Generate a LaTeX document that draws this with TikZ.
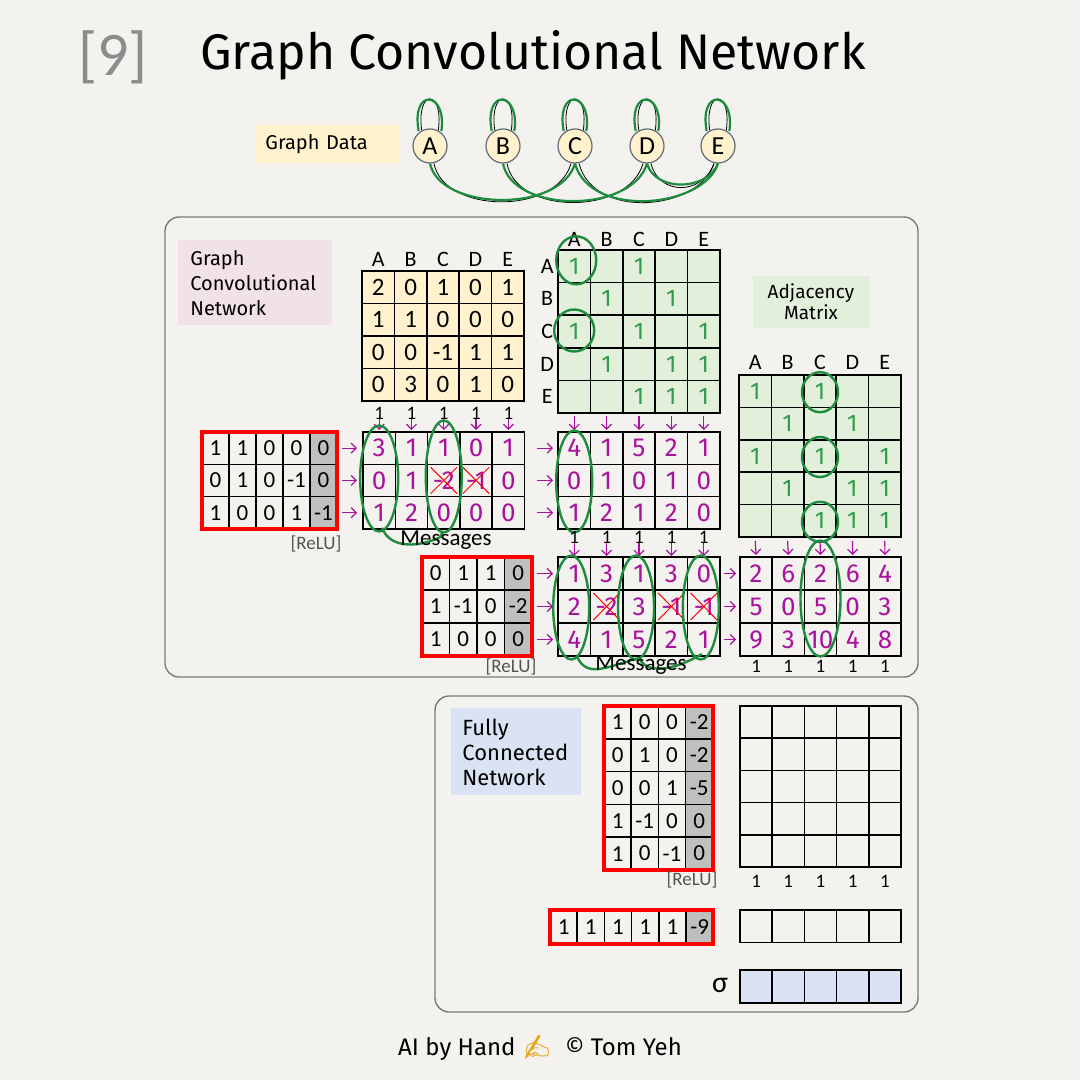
\documentclass[tikz,border=0pt]{standalone}
\usepackage{fontspec}
\setmainfont{Carlito}
\newfontfamily\labfont{Fira Sans}
\newfontfamily\emojifont{Noto Emoji}
\usetikzlibrary{arrows.meta,calc}
\definecolor{bg}{HTML}{F4F2EE}
\definecolor{yel}{HTML}{FFF2CC}
\definecolor{grn}{HTML}{E2EFDA}
\definecolor{pnk}{HTML}{F0E2E7}
\definecolor{blu}{HTML}{DAE3F3}
\definecolor{gcol}{HTML}{BFBFBF}
\definecolor{mag}{HTML}{A8129E}
\definecolor{gstroke}{HTML}{1E8C3E}
\definecolor{gtext}{HTML}{2E9E4A}
\definecolor{boxline}{HTML}{7A7A7A}
\definecolor{numgray}{HTML}{8C8C8C}
\definecolor{relu}{HTML}{555555}
\definecolor{nodeline}{HTML}{5F6B7A}
\definecolor{emo}{HTML}{E8A317}

\newcommand\numgrid[7]{%
  \foreach \rw [count=\ii] in {#7} {%
    \foreach \vv [count=\jj] in \rw {%
      \node[gcell, minimum width=#4*0.5pt, minimum height=#5*0.5pt, #6] (#1-\ii-\jj) at ({#2+(\jj-0.5)*#4},{#3+(\ii-0.5)*#5}) {\vv};
    }%
  }%
}
\newcommand\emptygrid[8]{%
  \foreach \ii in {1,...,#6} {%
    \foreach \jj in {1,...,#7} {%
      \node[gcell, minimum width=#4*0.5pt, minimum height=#5*0.5pt, #8] (#1-\ii-\jj) at ({#2+(\jj-0.5)*#4},{#3+(\ii-0.5)*#5}) {};
    }%
  }%
}

\tikzset{
  gcell/.style={draw=black, line width=0.75pt, inner sep=0pt, outer sep=0pt},
  num/.style={font=\fontsize{12.5}{13}\selectfont},
  rnum/.style={font=\fontsize{11.5}{12}\selectfont},
  hand/.style={text=mag, font=\labfont\fontsize{13}{13}\selectfont},
  gone/.style={text=gtext, font=\labfont\fontsize{12}{12}\selectfont, inner sep=0pt},
  collab/.style={font=\fontsize{11}{11}\selectfont, inner sep=0pt},
  onelab/.style={font=\fontsize{9.5}{10}\selectfont, inner sep=0pt},
  relulab/.style={text=relu, font=\fontsize{9.5}{10}\selectfont, inner sep=0pt},
  redline/.style={draw=red, line width=1.8pt},
  marr/.style={draw=mag, line width=0.6pt, -{Straight Barb[length=2.5pt,width=5pt]}},
  gell/.style={draw=gstroke, line width=1.2pt},
  crossx/.style={draw=red, line width=0.5pt},
  gnode/.style={circle, fill=yel, draw=nodeline, line width=0.6pt, minimum size=17pt, inner sep=0pt, font=\fontsize{13}{13}\selectfont},
  gedge/.style={draw=gstroke, line width=1.1pt},
  kedge/.style={draw=black, line width=0.4pt},
  panel/.style={draw=boxline, line width=0.7pt, rounded corners=7pt},
  msglab/.style={font=\fontsize{11.5}{12}\selectfont, inner sep=0pt},
}

\begin{document}
\begin{tikzpicture}[x=0.5pt,y=-0.5pt]
\fill[bg] (0,0) rectangle (1080,1080);
\useasboundingbox (0,0) rectangle (1080,1080);

% ---------- title ----------
\node[text=numgray, font=\fontsize{31}{34}\selectfont] (num) at (113,57) {[9]};
\node[anchor=west, font=\labfont\fontsize{25}{28}\selectfont] (title) at (193,55) {Graph Convolutional Network};

% ---------- graph data ----------
\node[fill=yel, anchor=west, minimum height=19pt, text width=62pt, inner xsep=5pt, align=left, font=\labfont\fontsize{10}{11}\selectfont] (gd) at (255,144) {Graph Data};
\foreach \nn/\xx in {A/430,B/503,C/575,D/647,E/718} {
  \node[gnode] (\nn) at (\xx,146) {\nn};
}
\foreach \nn in {A,B,C,D,E} {
  \draw[kedge] (\nn.118) .. controls +(-6,-42) and +(6,-42) .. (\nn.62);
  \draw[gedge] ([xshift=-1pt]\nn.122) .. controls +(-8,-44) and +(6,-40) .. ([xshift=1pt]\nn.58);
}
\draw[kedge] ([xshift=2pt]A.south) .. controls +(10,50) and +(-15,52) .. ([xshift=-2pt]C.south);
\draw[gedge] (A.south) .. controls +(10,47) and +(-15,50) .. (C.south);
\draw[kedge] ([xshift=2pt]B.south) .. controls +(10,52) and +(-15,52) .. ([xshift=-2pt]D.south);
\draw[gedge] (B.south) .. controls +(10,50) and +(-15,50) .. (D.south);
\draw[kedge] ([xshift=2pt]C.south) .. controls +(15,57) and +(-15,47) .. ([xshift=-2pt]E.south);
\draw[gedge] (C.south) .. controls +(15,55) and +(-15,45) .. (E.south);
\draw[kedge] ([xshift=2pt]D.south) .. controls +(8,32) and +(-12,32) .. ([xshift=-2pt]E.south);
\draw[gedge] (D.south) .. controls +(8,28) and +(-12,28) .. (E.south);

% ---------- panels ----------
\draw[panel] (165,217) rectangle (918,677);
\draw[panel] (435,696) rectangle (918,1012);

\node[fill=pnk, anchor=north west, minimum width=77pt, minimum height=42.5pt, text width=65pt, inner xsep=6pt, align=left, font=\labfont\fontsize{10}{12.5}\selectfont] (gcnlab) at (178,240) {Graph\\Convolutional\\Network};
\node[fill=grn, minimum width=58.5pt, minimum height=26pt, align=center, font=\labfont\fontsize{9.5}{10.5}\selectfont] (adjlab) at (811,302) {Adjacency\\Matrix};
\node[fill=blu, anchor=north west, minimum width=64.5pt, minimum height=43.5pt, text width=54pt, inner xsep=5.5pt, align=left, font=\labfont\fontsize{11}{12.5}\selectfont] (fclab) at (451,708) {Fully\\Connected\\Network};

% ---------- feature matrix ----------
\fill[yel] (362,271) rectangle (524,401);
\numgrid{F}{362}{271}{32.4}{32.5}{num}{{2,0,1,0,1},{1,1,0,0,0},{0,0,-1,1,1},{0,3,0,1,0}}
\foreach \ll [count=\jj] in {A,B,C,D,E} {
  \node[collab] (FL-\jj) at ($(F-1-\jj)+(0,-28)$) {\ll};
}

% ---------- adjacency 1 ----------
\emptygrid{Adj1}{558}{250}{32.4}{32.6}{5}{5}{fill=grn}
\foreach \ll [count=\jj] in {A,B,C,D,E} {
  \node[collab] (AL-\jj) at ($(Adj1-1-\jj)+(0,-27)$) {\ll};
  \node[collab] (AR-\jj) at ($(Adj1-\jj-1)+(-27,0)$) {\ll};
}
\foreach \rr/\cc in {1/1,1/3,2/2,2/4,3/1,3/3,3/5,4/2,4/4,4/5,5/3,5/4,5/5} {
  \node[gone] (A1t-\rr-\cc) at (Adj1-\rr-\cc) {1};
}
\draw[gell] ($(Adj1-1-1)+(2,-6)$) ellipse [x radius=10pt, y radius=12pt];
\draw[gell] ($(Adj1-3-1)+(0,-1)$) ellipse [x radius=10pt, y radius=10.5pt];

% ---------- adjacency 2 ----------
\emptygrid{Adj2}{739}{375}{32.4}{32.4}{5}{5}{fill=grn}
\foreach \ll [count=\jj] in {A,B,C,D,E} {
  \node[collab] (BL-\jj) at ($(Adj2-1-\jj)+(0,-29)$) {\ll};
}
\foreach \rr/\cc in {1/1,1/3,2/2,2/4,3/1,3/3,3/5,4/2,4/4,4/5,5/3,5/4,5/5} {
  \node[gone] (A2t-\rr-\cc) at (Adj2-\rr-\cc) {1};
}
\foreach \rr in {1,3,5} {
  \draw[gell] ($(Adj2-\rr-3)+(0,1)$) ellipse [x radius=9pt, y radius=10pt];
}

% ---------- layer 1 ----------
\fill[gcol] (310,432) rectangle (337,529);
\numgrid{W1}{202}{432}{27}{32.3}{rnum}{{1,1,0,0,0},{0,1,0,-1,0},{1,0,0,1,-1}}
\draw[redline] (W1-1-1.north west) rectangle (W1-3-5.south east);
\node[relulab] (relu1) at (316,544) {[ReLU]};

\numgrid{M1}{363}{432}{32.3}{32.3}{hand}{{3,1,1,0,1},{0,1,-2,-1,0},{1,2,0,0,0}}
\foreach \jj in {1,...,5} {
  \node[onelab] (one1-\jj) at ($(M1-1-\jj)+(0,-35)$) {1};
  \draw[marr] ($(one1-\jj)+(0,6)$) -- ($(M1-1-\jj.north)+(0,-2)$);
}
\foreach \ii in {1,2,3} {
  \draw[marr] ($(M1-\ii-1.west)+(-21,0)$) -- ($(M1-\ii-1.west)+(-6,0)$);
}
\foreach \rr/\cc in {2/3,2/4} {
  \draw[crossx] ($(M1-\rr-\cc.south west)+(3,-3)$) -- ($(M1-\rr-\cc.north east)+(-3,3)$);
  \draw[crossx] ($(M1-\rr-\cc.north west)+(3,3)$) -- ($(M1-\rr-\cc.south east)+(-3,-3)$);
}
\draw[gell] ($(M1-2-1)+(0,-2)$) ellipse [x radius=9.5pt, y radius=26.5pt];
\draw[gell] ($(M1-2-3)+(0,-4)$) ellipse [x radius=9pt, y radius=28pt];
\draw[gell] ($(M1-3-1.south)+(3,-1)$) .. controls +(8,22) and +(-20,10) .. ($(M1-3-3.south)+(-3,8)$) -- ($(M1-3-3.south)+(-1,2)$);
\node[msglab] (msg1) at (446,540) {Messages};

% adjacency aggregation 1
\numgrid{M2}{558}{432}{32.4}{32.3}{hand}{{4,1,5,2,1},{0,1,0,1,0},{1,2,1,2,0}}
\foreach \jj in {1,...,5} {
  \draw[marr] ($(Adj1-5-\jj.south)+(0,3)$) -- ($(M2-1-\jj.north)+(0,-2)$);
}
\foreach \ii in {1,2,3} {
  \draw[marr] ($(M2-\ii-1.west)+(-21,0)$) -- ($(M2-\ii-1.west)+(-5,0)$);
}
\draw[gell] ($(M2-2-1)+(0,1)$) ellipse [x radius=9pt, y radius=25.5pt];

% ---------- layer 2 ----------
\fill[gcol] (504.5,557) rectangle (532,656);
\numgrid{W2}{422}{557}{27.5}{33}{rnum}{{0,1,1,0},{1,-1,0,-2},{1,0,0,0}}
\draw[redline] (W2-1-1.north west) rectangle (W2-3-4.south east);
\node[relulab] (relu2) at (511,667) {[ReLU]};

\numgrid{M3}{558}{557}{32.4}{33}{hand}{{1,3,1,3,0},{2,-2,3,-1,-1},{4,1,5,2,1}}
\foreach \jj in {1,...,5} {
  \node[onelab] (one2-\jj) at ($(M2-3-\jj)+(0,25)$) {1};
  \draw[marr] ($(one2-\jj)+(0,5)$) -- ($(M3-1-\jj.north)+(0,-1)$);
}
\foreach \ii in {1,2,3} {
  \draw[marr] ($(M3-\ii-1.west)+(-21,0)$) -- ($(M3-\ii-1.west)+(-5,0)$);
}
\foreach \rr/\cc in {2/2,2/4,2/5} {
  \draw[crossx] ($(M3-\rr-\cc.south west)+(3,-3)$) -- ($(M3-\rr-\cc.north east)+(-3,3)$);
  \draw[crossx] ($(M3-\rr-\cc.north west)+(3,3)$) -- ($(M3-\rr-\cc.south east)+(-3,-3)$);
}
\foreach \cc in {1,3,5} {
  \draw[gell] ($(M3-2-\cc)+(-3,1)$) ellipse [x radius=9pt, y radius=26pt];
}
\draw[gell] ($(M3-3-1.south)+(3,1)$) .. controls +(10,22) and +(-30,8) .. ($(M3-3-3.south)+(0,2)$);
\draw[gell] ($(M3-3-3.south)+(0,2)$) .. controls +(10,20) and +(-20,12) .. ($(M3-3-5.south)+(-2,-2)$);
\node[msglab] (msg2) at (641,665) {Messages};

% aggregation 2
\numgrid{O}{740}{557}{32.2}{33}{hand}{{2,6,2,6,4},{5,0,5,0,3},{9,3,10,4,8}}
\foreach \jj in {1,...,5} {
  \draw[marr] ($(Adj2-5-\jj.south)+(0,4)$) -- ($(O-1-\jj.north)+(0,-2)$);
  \node[onelab] (one3-\jj) at ($(O-3-\jj)+(0,27)$) {1};
}
\foreach \ii in {1,2,3} {
  \draw[marr] ($(O-\ii-1.west)+(-16,0)$) -- ($(O-\ii-1.west)+(-4,0)$);
}
\draw[gell] ($(O-2-3)+(0,-8)$) ellipse [x radius=10pt, y radius=29pt];

% ---------- fully connected ----------
\fill[gcol] (685.6,706) rectangle (712.8,870);
\numgrid{W3}{604}{706}{27.2}{32.8}{rnum}{{1,0,0,-2},{0,1,0,-2},{0,0,1,-5},{1,-1,0,0},{1,0,-1,0}}
\draw[redline] (W3-1-1.north west) rectangle (W3-5-4.south east);
\node[relulab] (relu3) at (692,880) {[ReLU]};

\emptygrid{G}{740}{706}{32.2}{32.2}{5}{5}{}
\foreach \jj in {1,...,5} {
  \node[onelab] (one4-\jj) at ($(G-5-\jj)+(0,30)$) {1};
}

\fill[gcol] (686,910) rectangle (713.2,944);
\numgrid{W4}{550}{910}{27.2}{34}{rnum}{{1,1,1,1,1,-9}}
\draw[redline] (W4-1-1.north west) rectangle (W4-1-6.south east);

\emptygrid{H}{740}{910}{32.2}{32.5}{1}{5}{}
\emptygrid{S}{740}{970}{32.2}{33}{1}{5}{fill=blu}
\node[font=\fontsize{15}{15}\selectfont] (sigma) at (720,985) {σ};

% ---------- footer ----------
\node[font=\labfont\fontsize{12}{13}\selectfont] (foot) at (540,1048) {AI by Hand {\emojifont\textcolor{emo}{✍}}\ \ © Tom Yeh};
\end{tikzpicture}
\end{document}
